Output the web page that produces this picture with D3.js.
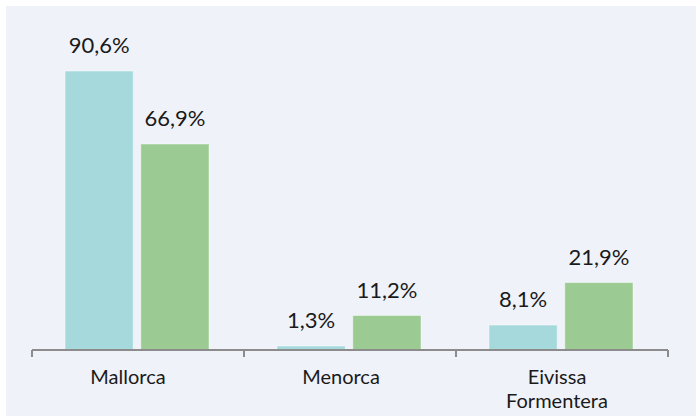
<!DOCTYPE html>
<html><head><meta charset="utf-8">
<script src="https://cdn.jsdelivr.net/npm/d3@7"></script>
<style>html,body{margin:0;padding:0;background:#fff;}svg{display:block;}</style>
</head><body>
<svg id="c" width="696" height="416"></svg>
<script>
const categories = [["Mallorca"], ["Menorca"], ["Eivissa", "Formentera"]];
const seriesNames = ["A", "B"];
const seriesA = [90.6, 1.3, 8.1];
const seriesB = [66.9, 11.2, 21.9];
const valueLabelsA = ["90,6%", "1,3%", "8,1%"];
const valueLabelsB = ["66,9%", "11,2%", "21,9%"];
const colors = ["#a6d9dc", "#9bcb92"];

(function () {
const svg = d3.select("#c");
svg.append("rect").attr("x", 6).attr("y", 6).attr("width", 690).attr("height", 410).attr("fill", "#eff2f9");

const pLeft = 32, pRight = 668, base = 350, pTop = 71;
const keys = categories.map(c => c.join(" "));
const x0 = d3.scaleBand().domain(keys).range([pLeft, pRight]).paddingInner(0).paddingOuter(0);
const x1 = d3.scaleBand().domain(seriesNames).range([33, 177]).paddingInner(0.1);
const y = d3.scaleLinear().domain([0, 90.6]).range([base, pTop]);

const data = keys.map((k, i) => ({k, vals: [
  {s: "A", v: seriesA[i], l: valueLabelsA[i]},
  {s: "B", v: seriesB[i], l: valueLabelsB[i]}
]}));

const g = svg.append("g");
const grp = g.selectAll("g.cat").data(data).join("g").attr("class", "cat").attr("transform", d => `translate(${x0(d.k)},0)`);
grp.selectAll("rect").data(d => d.vals).join("rect")
  .attr("x", d => x1(d.s)).attr("width", x1.bandwidth())
  .attr("y", d => y(d.v)).attr("height", d => base - y(d.v))
  .attr("fill", (d, i) => colors[i])
  .attr("stroke", "rgba(255,255,255,0.45)").attr("stroke-width", 1);
grp.selectAll("text").data(d => d.vals).join("text")
  .attr("x", d => x1(d.s) + x1.bandwidth() / 2)
  .attr("y", d => y(d.v) - 18)
  .attr("text-anchor", "middle")
  .attr("font-family", "Lato, sans-serif").attr("font-size", 22)
  .attr("fill", "#1a1a1a")
  .text(d => d.l);

const axis = d3.axisBottom(x0).tickSize(0).tickFormat("");
const ax = svg.append("g").attr("transform", `translate(0,${base})`).call(axis);
ax.select(".domain").remove();
ax.append("line").attr("x1", pLeft).attr("x2", pRight).attr("y1", 0).attr("y2", 0).attr("stroke", "#8c8c8c").attr("stroke-width", 2);
const bounds = [pLeft].concat(keys.map(k => x0(k) + x0.bandwidth()));
ax.selectAll("line.tk").data(bounds).join("line").attr("class", "tk")
  .attr("x1", d => d).attr("x2", d => d).attr("y1", 0).attr("y2", 7)
  .attr("stroke", "#8c8c8c").attr("stroke-width", 2);

const labOff = [-10, -9, -5];
const cl = svg.append("g");
categories.forEach((lines, i) => {
  lines.forEach((ln, j) => {
    cl.append("text")
      .attr("text-anchor", "middle")
      .attr("font-family", "Lato, sans-serif").attr("font-size", 20)
      .attr("fill", "#1a1a1a")
      .attr("x", x0(keys[i]) + x0.bandwidth() / 2 + labOff[i]).attr("y", 383.5 + j * 24.2).text(ln);
  });
});
})();
</script>
</body></html>
